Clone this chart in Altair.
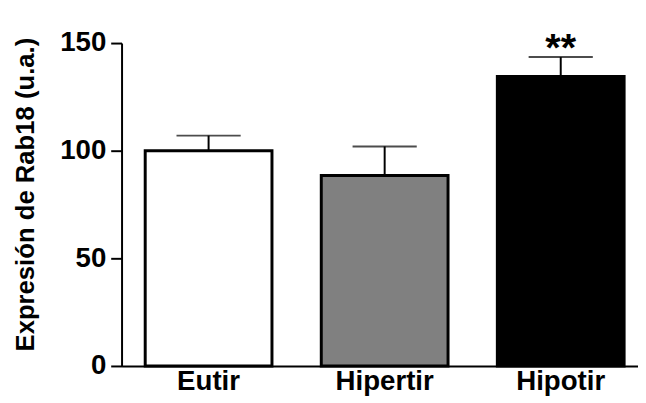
import altair as alt
import pandas as pd

categories = ["Eutir", "Hipertir", "Hipotir"]
means = [100, 88.5, 134.5]
upper = [107, 102, 143.5]
fills = ["#ffffff", "#808080", "#000000"]
signif = ["", "", "**"]

df = pd.DataFrame({"cat": categories, "mean": means, "upper": upper,
                   "fill": fills, "sig": signif})

FONT = "Liberation Sans"

x = alt.X("cat:N", sort=categories, title=None,
          scale=alt.Scale(paddingInner=0.28, paddingOuter=0.1066, align=0.63))
yscale = alt.Scale(domain=[0, 150], nice=False)
ytitle = "Expresión de Rab18 (u.a.)"

base = alt.Chart(df)

err = base.mark_rule(color="black", strokeWidth=2).encode(
    x=x, y=alt.Y("mean:Q", scale=yscale, title=ytitle), y2="upper:Q")

cap = base.mark_tick(color="black", size=65, thickness=2).encode(
    x=x, y=alt.Y("upper:Q", scale=yscale, title=ytitle))

bars = base.mark_bar(stroke="black", strokeWidth=3).encode(
    x=x,
    y=alt.Y("mean:Q", scale=yscale, title=ytitle,
            axis=alt.Axis(values=[0, 50, 100, 150])),
    fill=alt.Fill("fill:N", scale=None))

stars = base.mark_text(font=FONT, fontSize=40, fontWeight="bold",
                       baseline="alphabetic", dy=4, color="black").encode(
    x=x, y=alt.Y("upper:Q", scale=yscale, title=ytitle), text="sig:N")

chart = alt.layer(err, cap, bars, stars).properties(
    width=523, height=327,
    background="white",
    autosize=alt.AutoSizeParams(type="none"),
    padding={"left": 115, "top": 33, "right": 0, "bottom": 35},
).configure_view(strokeWidth=0, stroke="transparent").configure_axis(
    grid=False, domainColor="black", domainWidth=2,
    labelFont=FONT, labelFontWeight="bold", labelColor="black",
    titleFont=FONT, titleFontWeight="bold", titleColor="black",
).configure_axisX(
    labelAngle=0, ticks=False, labelPadding=2, labelFontSize=28,
).configure_axisY(
    tickSize=11, tickWidth=2, tickColor="black", labelPadding=5,
    labelFontSize=28, titleFontSize=26, titleX=-84, titleY=153,
    titleAngle=-90, titleBaseline="bottom", titleAlign="center",
)

chart.save("out.html", embed_options={"renderer": "svg", "actions": False})
